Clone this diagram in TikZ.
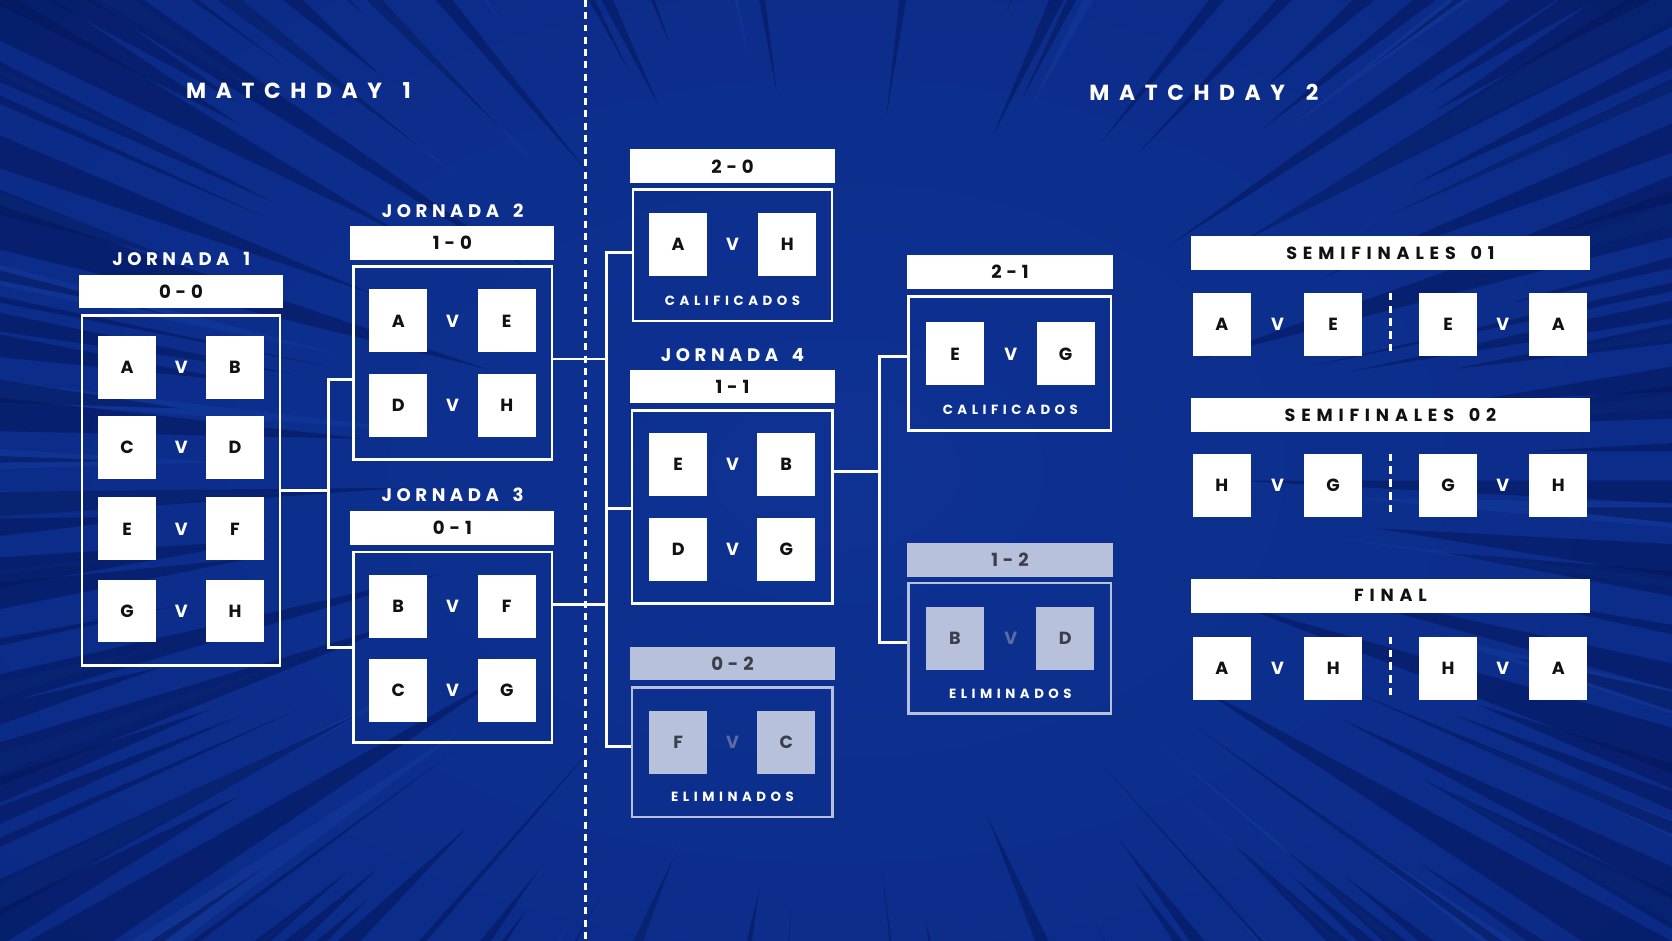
\documentclass[tikz,border=0pt]{standalone}
\usepackage{fontspec}
\setmainfont{Poppins}
\newfontfamily\popTitle{Poppins}[LetterSpace=44]
\newfontfamily\popLabel{Poppins}[LetterSpace=25]
\newfontfamily\popWide{Poppins}[LetterSpace=33]
\newfontfamily\popSmall{Poppins}[LetterSpace=34]
\newfontfamily\popScore{Poppins}[LetterSpace=6]
\usetikzlibrary{calc}
\definecolor{bgmid}{HTML}{0E3293}
\definecolor{bgout}{HTML}{092781}
\definecolor{raydark}{HTML}{04165A}
\definecolor{raylight}{HTML}{1A42A6}
\definecolor{elimgray}{HTML}{B7C1DB}
\definecolor{elimtext}{HTML}{3C3F4A}
\definecolor{elimv}{HTML}{5A6CA5}
\definecolor{inkblack}{HTML}{111111}
\newcommand\wgap{\kern0.3em\ }
\newcommand\matchrowx[8]{%
  \node[team#8] (#1a) at (#2,#5) {#6};
  \node[vs#8] (#1v) at (#3,#5) {V};
  \node[team#8] (#1b) at (#4,#5) {#7};}
\begin{document}
\begin{tikzpicture}[x=1pt,y=-1pt,
  conn/.style={draw=white, line width=2.5pt, line join=miter},
  grp/.style={draw=white, line width=2.5pt, inner sep=0pt},
  grpE/.style={grp, draw=elimgray},
  bar/.style={fill=white, inner sep=0pt, text=inkblack, font=\popScore\bfseries\fontsize{17}{17}\selectfont},
  barE/.style={bar, fill=elimgray, text=elimtext},
  wbar/.style={bar, minimum width=374.5pt, minimum height=32pt, font=\popWide\bfseries\fontsize{16.5}{16.5}\selectfont},
  team/.style={fill=white, inner sep=0pt, minimum width=54.5pt, minimum height=59pt, text=inkblack, font=\bfseries\fontsize{16.5}{16.5}\selectfont},
  teamE/.style={team, fill=elimgray, text=elimtext},
  vs/.style={text=white, inner sep=0pt, font=\bfseries\fontsize{16.5}{16.5}\selectfont},
  vsE/.style={vs, text=elimv},
  lbl/.style={text=white, inner sep=0pt, font=\popLabel\bfseries\fontsize{17}{17}\selectfont},
  ttl/.style={text=white, inner sep=0pt, font=\popTitle\bfseries\fontsize{20.5}{20.5}\selectfont},
  sml/.style={text=white, inner sep=0pt, font=\popSmall\bfseries\fontsize{12.5}{12.5}\selectfont},
  sepline/.style={draw=white, line width=2.5pt, dash pattern=on 7pt off 5pt}
]
\useasboundingbox (0,0) rectangle (1568,882.4);
% ---------- background ----------
\fill[bgout] (0,0) rectangle (1568,882.4);
\begin{scope}
  \clip (0,0) rectangle (1568,882.4);
  \shade[inner color=bgmid, outer color=bgout] (-616,-459) rectangle (2184,1341);
  \foreach \k in {1,...,60}{
    \pgfmathsetmacro\ang{360*mod(\k*0.618034+0.03,1)}
    \pgfmathsetmacro\hw{0.3+1.2*abs(sin(mod(\k*71.9,360)))}
    \pgfmathsetmacro\rin{360+300*abs(sin(mod(\k*33.1,360)))}
    \fill[raylight, opacity=0.35] ($(784,441)+(\ang:\rin)$) -- ($(784,441)+(\ang-\hw:1300)$) -- ($(784,441)+(\ang+\hw:1300)$) -- cycle;
  }
  \foreach \k in {1,...,160}{
    \pgfmathsetmacro\ang{360*mod(\k*0.381966,1)}
    \pgfmathsetmacro\hw{0.3+1.6*abs(sin(mod(\k*97.3,360)))}
    \pgfmathsetmacro\rin{330+330*abs(sin(mod(\k*53.7,360)))}
    \fill[raydark, opacity=0.55] ($(784,441)+(\ang:\rin)$) -- ($(784,441)+(\ang-\hw:1300)$) -- ($(784,441)+(\ang+\hw:1300)$) -- cycle;
  }
\end{scope}
% ---------- central dashed divider ----------
\draw[white, line width=2.5pt, dash pattern=on 6.5pt off 5pt] (549,0) -- (549,882.4);
% ---------- titles ----------
\node[ttl] (t1) at (280,85) {MATCHDAY\wgap 1};
\node[ttl] (t2) at (1129,87) {MATCHDAY\wgap 2};
% ---------- group boxes ----------
\node[grp, minimum width=185.6pt, minimum height=327.9pt] (j1box) at (169.75,460) {};
\node[grp, minimum width=186.5pt, minimum height=181pt] (j2box) at (424.5,340.25) {};
\node[grp, minimum width=186.5pt, minimum height=178.5pt] (j3box) at (424.5,607) {};
\node[grp, minimum width=186.7pt, minimum height=123.2pt] (qbox) at (687,239.45) {};
\node[grp, minimum width=188pt, minimum height=181pt] (j4box) at (686.75,475.45) {};
\node[grpE, minimum width=188pt, minimum height=121.5pt] (e1box) at (686.75,705.4) {};
\node[grp, minimum width=189.7pt, minimum height=125.6pt] (q2box) at (947.1,340.75) {};
\node[grpE, minimum width=189.7pt, minimum height=122.6pt] (e2box) at (947.1,608) {};
% ---------- connectors ----------
\draw[conn] (j1box.east) -- (308,460);
\draw[conn] (j2box.west |- 0,355.7) -- (308,355.7) -- (308,607) -- (j3box.west);
\draw[conn] (j2box.east |- 0,336.6) -- (568.5,336.6);
\draw[conn] (j3box.east |- 0,566.7) -- (568.5,566.7);
\draw[conn] (qbox.west |- 0,237) -- (568.5,237) -- (568.5,700.2) -- (e1box.west |- 0,700.2);
\draw[conn] (568.5,476.7) -- (j4box.west |- 0,476.7);
\draw[conn] (j4box.east |- 0,442) -- (824.7,442);
\draw[conn] (q2box.west |- 0,334.5) -- (824.7,334.5) -- (824.7,602.7) -- (e2box.west |- 0,602.7);
% ---------- labels ----------
\node[lbl] (l1) at (170,243.2) {JORNADA\wgap 1};
\node[lbl] (l2) at (424.5,197.6) {JORNADA\wgap 2};
\node[lbl] (l3) at (424.5,463.6) {JORNADA\wgap 3};
\node[lbl] (l4) at (687,333) {JORNADA\wgap 4};
% ---------- score bars ----------
\node[bar, minimum width=190.7pt, minimum height=31.3pt] (b1) at (169.75,273.55) {0 - 0};
\node[bar, minimum width=191.5pt, minimum height=31.5pt] (b2) at (424.25,227.75) {1 - 0};
\node[bar, minimum width=191.5pt, minimum height=31.2pt] (b3) at (424.25,495.2) {0 - 1};
\node[bar, minimum width=192.3pt, minimum height=32pt] (bq) at (686.95,156) {2 - 0};
\node[bar, minimum width=192.3pt, minimum height=31.2pt] (b4) at (686.95,362.6) {1 - 1};
\node[barE, minimum width=192.3pt, minimum height=30.6pt] (be1) at (686.95,622.4) {0 - 2};
\node[bar, minimum width=193.8pt, minimum height=32.2pt] (bq2) at (947.2,255.2) {2 - 1};
\node[barE, minimum width=193.8pt, minimum height=31.2pt] (be2) at (947.2,525.2) {1 - 2};
\node[wbar] (s1) at (1303.95,237.55) {SEMIFINALES\wgap 01};
\node[wbar] (s2) at (1303.95,389.55) {SEMIFINALES\wgap 02};
\node[wbar] (s3) at (1303.95,558.65) {FINAL};
% ---------- matches ----------
\matchrowx{ja}{119.25}{170}{220.4}{344.35}{A}{B}{}
\matchrowx{jb}{119.25}{170}{220.4}{419.5}{C}{D}{}
\matchrowx{jc}{119.25}{170}{220.4}{495.95}{E}{F}{}
\matchrowx{jd}{119.25}{170}{220.4}{573}{G}{H}{}
\matchrowx{ka}{373.5}{424.5}{475.2}{300.9}{A}{E}{}
\matchrowx{kb}{373.5}{424.5}{475.2}{380}{D}{H}{}
\matchrowx{la}{373.5}{424.5}{475.2}{568.7}{B}{F}{}
\matchrowx{lb}{373.5}{424.5}{475.2}{647.6}{C}{G}{}
\matchrowx{qa}{636}{687}{738.4}{229.5}{A}{H}{}
\matchrowx{ma}{636}{687}{737.3}{435.8}{E}{B}{}
\matchrowx{mb}{636}{687}{737.3}{515.05}{D}{G}{}
\matchrowx{ea}{636}{687}{737.3}{695.9}{F}{C}{E}
\matchrowx{qb}{895.8}{947.8}{999.3}{331.85}{E}{G}{}
\matchrowx{eb}{895.6}{947.8}{999.1}{598.6}{B}{D}{E}
\node[sml] (c1) at (687,282) {CALIFICADOS};
\node[sml] (c2) at (947.5,384.5) {CALIFICADOS};
\node[sml] (c3) at (687,747.2) {ELIMINADOS};
\node[sml] (c4) at (947.5,650.2) {ELIMINADOS};
% ---------- semifinals & final ----------
\matchrowx{ra}{1145.85}{1198}{1250.25}{304.2}{A}{E}{}
\matchrowx{rb}{1358}{1409.2}{1461.4}{304.2}{E}{A}{}
\matchrowx{sa}{1145.85}{1198}{1250.25}{455.15}{H}{G}{}
\matchrowx{sb}{1358}{1409.2}{1461.4}{455.15}{G}{H}{}
\matchrowx{fa}{1145.85}{1198}{1250.25}{626.8}{A}{H}{}
\matchrowx{fb}{1358}{1409.2}{1461.4}{626.8}{H}{A}{}
\draw[sepline] ($(rab.north east)!0.5!(rba.north west)$) -- ($(rab.south east)!0.5!(rba.south west)$);
\draw[sepline] ($(sab.north east)!0.5!(sba.north west)$) -- ($(sab.south east)!0.5!(sba.south west)$);
\draw[sepline] ($(fab.north east)!0.5!(fba.north west)$) -- ($(fab.south east)!0.5!(fba.south west)$);
\end{tikzpicture}
\end{document}
